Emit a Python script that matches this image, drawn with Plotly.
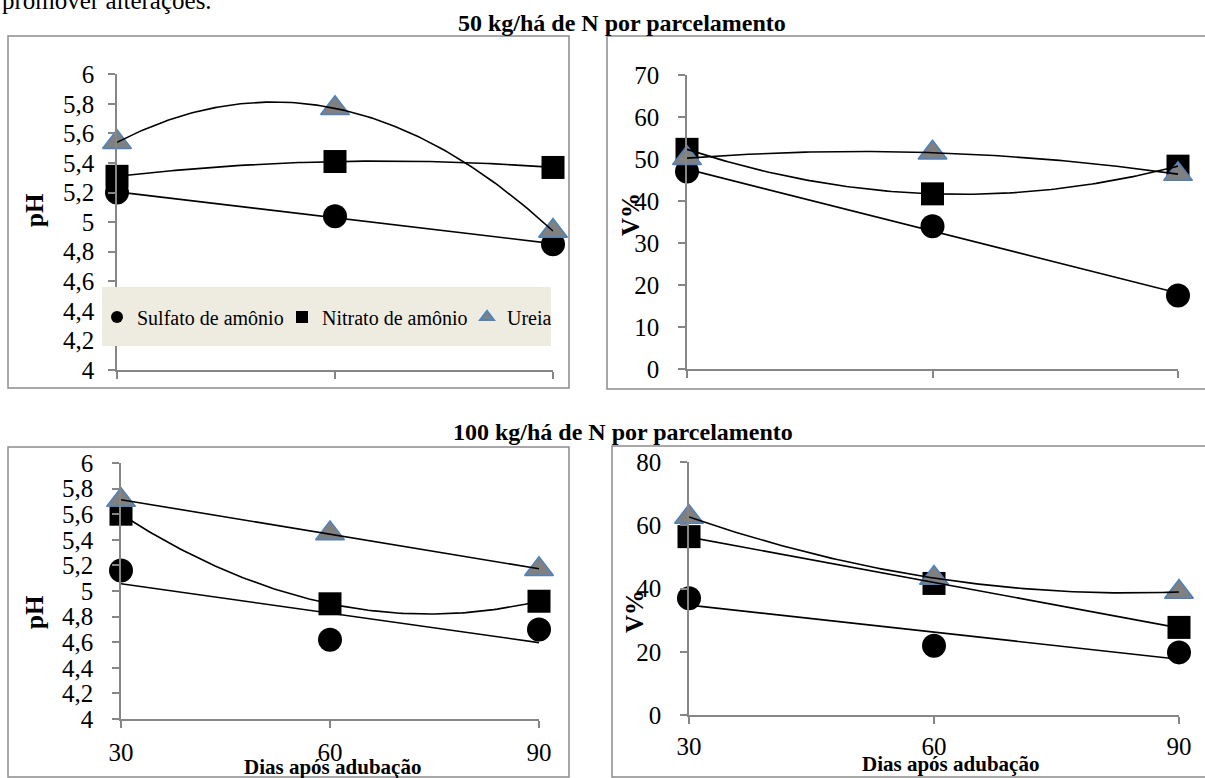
import numpy as np
import plotly.graph_objects as go

W, H = 1205, 778

# ---------------- data ----------------
dias = [30, 60, 90]
series_names = ["Sulfato de amônio", "Nitrato de amônio", "Ureia"]

# 50 kg/há de N
ph_50_sulfato = [5.20, 5.04, 4.85]
ph_50_nitrato = [5.31, 5.41, 5.37]
ph_50_ureia = [5.54, 5.77, 4.94]
v_50_sulfato = [47.0, 34.0, 17.5]
v_50_nitrato = [52.3, 41.7, 48.3]
v_50_ureia = [50.2, 51.5, 46.4]

# 100 kg/há de N
ph_100_sulfato = [5.16, 4.62, 4.70]
ph_100_nitrato = [5.60, 4.90, 4.92]
ph_100_ureia = [5.71, 5.45, 5.17]
v_100_sulfato = [36.9, 21.9, 19.8]
v_100_nitrato = [56.4, 41.6, 27.7]
v_100_ureia = [62.6, 43.3, 38.9]

# trendline polynomial order per series (Sulfato, Nitrato, Ureia)
trend_ph_50 = [1, 2, 2]
trend_v_50 = [1, 2, 2]
trend_ph_100 = [1, 2, 1]
trend_v_100 = [1, 1, 2]

ph_ticks = [4, 4.2, 4.4, 4.6, 4.8, 5, 5.2, 5.4, 5.6, 5.8, 6]
v50_ticks = [0, 10, 20, 30, 40, 50, 60, 70]
v100_ticks = [0, 20, 40, 60, 80]

# ---------------- layout helpers ----------------
FONT = "Liberation Serif"


def fx(p):
    return p / W


def fy(p):
    return 1 - p / H


marker_styles = [
    dict(symbol="circle", size=24, color="black"),
    dict(symbol="square", size=23, color="black"),
    dict(symbol="triangle-up", size=25, color="#808080",
         line=dict(color="#4F81BD", width=1.5)),
]

panels = [
    ("x", "y", [ph_50_sulfato, ph_50_nitrato, ph_50_ureia], trend_ph_50,
     (117, 553), (74.3, 370), [4, 6], ph_ticks, False),
    ("x2", "y2", [v_50_sulfato, v_50_nitrato, v_50_ureia], trend_v_50,
     (687, 1178), (75, 369), [0, 70], v50_ticks, False),
    ("x3", "y3", [ph_100_sulfato, ph_100_nitrato, ph_100_ureia], trend_ph_100,
     (121, 539), (463, 719), [4, 6], ph_ticks, True),
    ("x4", "y4", [v_100_sulfato, v_100_nitrato, v_100_ureia], trend_v_100,
     (689, 1179), (462, 715), [0, 80], v100_ticks, True),
]

fig = go.Figure()

for pi, (xa, ya, series, degs, xdom, ydom, yr, yt, showx) in enumerate(panels):
    for si, vals in enumerate(series):
        fig.add_trace(go.Scatter(
            x=dias, y=vals, mode="markers", name=series_names[si],
            marker=marker_styles[si], xaxis=xa, yaxis=ya,
            showlegend=(pi == 0), cliponaxis=False, legendgroup=series_names[si],
        ))
    for si, vals in enumerate(series):
        coef = np.polyfit(dias, vals, degs[si])
        xs = np.linspace(dias[0], dias[-1], 121)
        ys = np.polyval(coef, xs)
        fig.add_trace(go.Scatter(
            x=xs, y=ys, mode="lines", line=dict(color="black", width=1.6),
            xaxis=xa, yaxis=ya, showlegend=False, hoverinfo="skip", cliponaxis=False,
        ))

axis_common = dict(
    showgrid=False, zeroline=False, showline=True, linecolor="#868686", linewidth=1.5,
    ticks="outside", ticklen=7, tickwidth=1.5, tickcolor="#868686",
    tickfont=dict(family=FONT, size=25, color="black"),
)

layout_axes = {}
for pi, (xa, ya, series, degs, xdom, ydom, yr, yt, showx) in enumerate(panels):
    xkey = "xaxis" if xa == "x" else "xaxis" + xa[1:]
    ykey = "yaxis" if ya == "y" else "yaxis" + ya[1:]
    layout_axes[xkey] = dict(
        axis_common, domain=[fx(xdom[0]), fx(xdom[1])], range=[dias[0], dias[-1]],
        tickvals=dias, showticklabels=showx, anchor=ya,
        ticklabelstandoff=3 if pi == 2 else 1,
    )
    layout_axes[ykey] = dict(
        axis_common, domain=[fy(ydom[1]), fy(ydom[0])], range=yr,
        tickvals=yt, anchor=xa, ticklabelstandoff=9 if pi == 0 else 14,
    )

shapes = []
for (x0, y0, x1, y1) in [(8, 36, 569, 388), (607, 36, 1212, 389),
                         (8, 447, 569, 777), (612, 446, 1212, 777)]:
    shapes.append(dict(type="rect", xref="paper", yref="paper",
                       x0=fx(x0), x1=fx(x1), y0=fy(y1), y1=fy(y0),
                       line=dict(color="#8c8c8c", width=1.5), fillcolor="rgba(0,0,0,0)",
                       layer="below"))
shapes.append(dict(type="rect", xref="paper", yref="paper",
                   x0=fx(102), x1=fx(551), y0=fy(346), y1=fy(287),
                   line=dict(width=0), fillcolor="#EEECE1", layer="above"))

annotations = []


def ann(text, x, y, size, bold=False, angle=0, xanchor="center", yanchor="middle"):
    annotations.append(dict(
        text=("<b>%s</b>" % text) if bold else text, x=fx(x), y=fy(y),
        xref="paper", yref="paper", showarrow=False, textangle=angle,
        xanchor=xanchor, yanchor=yanchor,
        font=dict(family=FONT, size=size, color="black"),
    ))


ann("promover alterações.", 0, 0, 25, xanchor="left")
ann("50 kg/há de N por parcelamento", 622, 23, 24, bold=True)
ann("100 kg/há de N por parcelamento", 623, 432, 24, bold=True)
ann("pH", 34, 210, 25, bold=True, angle=-90)
ann("V%", 630, 215, 25, bold=True, angle=-90)
ann("pH", 34, 612, 25, bold=True, angle=-90)
ann("V%", 634, 612, 25, bold=True, angle=-90)
ann("Dias após adubação", 332, 767, 21, bold=True)
ann("Dias após adubação", 950, 764, 21, bold=True)

fig.update_layout(
    width=W, height=H, margin=dict(l=0, r=0, t=0, b=0, pad=0, autoexpand=False),
    paper_bgcolor="white", plot_bgcolor="rgba(0,0,0,0)",
    separators=",.",
    font=dict(family=FONT, color="black"),
    showlegend=True,
    legend=dict(orientation="h", x=fx(97), xanchor="left", y=fy(317), yanchor="middle",
                bgcolor="rgba(0,0,0,0)", font=dict(family=FONT, size=20, color="black"),
                itemsizing="constant", entrywidth=140, entrywidthmode="pixels",
                traceorder="normal"),
    shapes=shapes, annotations=annotations,
    **layout_axes,
)

fig.write_html("out.html")
